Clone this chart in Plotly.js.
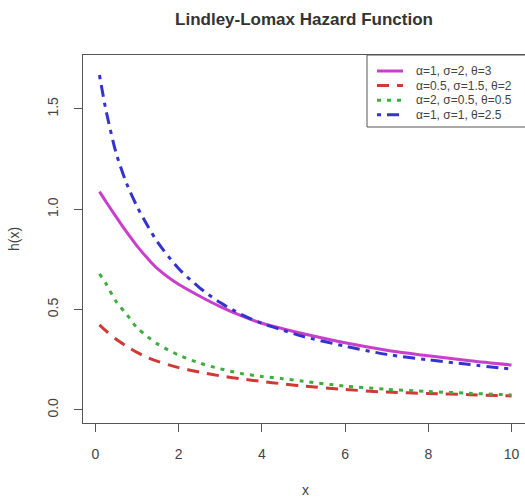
<!DOCTYPE html>
<html>
<head>
<meta charset="utf-8">
<script src="https://cdn.plot.ly/plotly-3.0.1.min.js"></script>
<style>
html,body{margin:0;padding:0;overflow:hidden;background:#fff;}
#chart{width:529px;height:498px;}
</style>
</head>
<body>
<div id="chart"></div>
<script>
const xs = [0.1, 0.25, 0.5, 0.75, 1, 1.25, 1.5, 2, 2.5, 3, 3.5, 4, 4.5, 5, 6, 7, 8, 9, 10];
const hMagenta = [1.088, 1.040, 0.962, 0.887, 0.818, 0.757, 0.703, 0.626, 0.568, 0.515, 0.47, 0.432, 0.405, 0.38, 0.335, 0.298, 0.27, 0.245, 0.224];
const hRed = [0.424, 0.395, 0.352, 0.318, 0.287, 0.262, 0.242, 0.211, 0.189, 0.17, 0.155, 0.142, 0.13, 0.119, 0.102, 0.089, 0.082, 0.076, 0.07];
const hGreen = [0.678, 0.632, 0.54, 0.477, 0.41, 0.366, 0.328, 0.274, 0.234, 0.205, 0.182, 0.167, 0.156, 0.143, 0.119, 0.103, 0.092, 0.083, 0.075];
const hBlue = [1.669, 1.50, 1.28, 1.13, 1.015, 0.92, 0.835, 0.705, 0.61, 0.535, 0.477, 0.432, 0.398, 0.366, 0.318, 0.277, 0.25, 0.226, 0.204];
const seriesNames = ["α=1, σ=2, θ=3", "α=0.5, σ=1.5, θ=2", "α=2, σ=0.5, θ=0.5", "α=1, σ=1, θ=2.5"];
const seriesColors = ['#C93FCB', '#D03A34', '#3DAE3D', '#3434CC'];
const seriesDash = ['solid', '12px,8px', '4px,6px', '4px,6px,12px,6px'];
const xTicks = [0, 2, 4, 6, 8, 10];
const yTicks = [0, 0.5, 1, 1.5];
const yTickText = ["0.0", "0.5", "1.0", "1.5"];

const series = [hMagenta, hRed, hGreen, hBlue];
const data = series.map((y, i) => ({
  x: xs, y: y, name: seriesNames[i], type: 'scatter', mode: 'lines',
  line: {color: seriesColors[i], width: 3, dash: seriesDash[i], shape: 'spline', smoothing: 0.8}
}));

// plot area in px: x 83..528, y 55..423
const PL = 83, PW = 445, PT = 55, PH = 368;
const px = v => (v - PL) / PW;
const py = v => 1 - (v - PT) / PH;

const shapes = [{
  type: 'rect', xref: 'paper', yref: 'paper',
  x0: px(367), x1: px(540), y0: py(127), y1: py(55),
  fillcolor: '#fff', line: {color: '#555', width: 1}, layer: 'above'
}];
const annotations = [];
const rowY = [71, 85.6, 100.2, 114.8];
seriesNames.forEach((n, i) => {
  shapes.push({
    type: 'line', xref: 'paper', yref: 'paper',
    x0: px(377), x1: px(403), y0: py(rowY[i]), y1: py(rowY[i]),
    line: {color: seriesColors[i], width: 3, dash: seriesDash[i]}, layer: 'above'
  });
  annotations.push({
    xref: 'paper', yref: 'paper', x: px(414), y: py(rowY[i]),
    xanchor: 'left', yanchor: 'middle', showarrow: false, text: n,
    font: {family: 'Liberation Sans, Arial, sans-serif', size: 12, color: '#444'}
  });
});

const axisFont = {family: 'Liberation Sans, Arial, sans-serif', size: 14, color: '#444'};

const layout = {
  width: 529, height: 498,
  margin: {l: 83, r: 1, t: 55, b: 75},
  paper_bgcolor: '#fff', plot_bgcolor: '#fff',
  title: {text: '<b>Lindley-Lomax Hazard Function</b>', x: 304/529, xanchor: 'center', y: 1 - 19/498, yanchor: 'middle',
          font: {family: 'Liberation Sans, Arial, sans-serif', size: 17, color: '#333'}},
  xaxis: {
    range: [-0.296, 10.396], tickvals: xTicks, ticks: 'outside', ticklen: 8, tickcolor: '#555',
    showgrid: false, zeroline: false, showline: true, linecolor: '#555', linewidth: 1, mirror: true,
    tickfont: axisFont, ticklabelstandoff: 10,
    title: {text: 'x', font: axisFont, standoff: 24}
  },
  yaxis: {
    range: [-0.065, 1.769], tickvals: yTicks, ticktext: yTickText, ticks: 'outside', ticklen: 8, tickcolor: '#555',
    showgrid: false, zeroline: false, showline: true, linecolor: '#555', linewidth: 1, mirror: true,
    tickfont: axisFont, tickangle: -90, ticklabelstandoff: 10,
    title: {text: 'h(x)', font: axisFont, standoff: 22}
  },
  showlegend: false,
  shapes: shapes,
  annotations: annotations
};

Plotly.newPlot('chart', data, layout, {displayModeBar: false, staticPlot: true});
</script>
</body>
</html>
